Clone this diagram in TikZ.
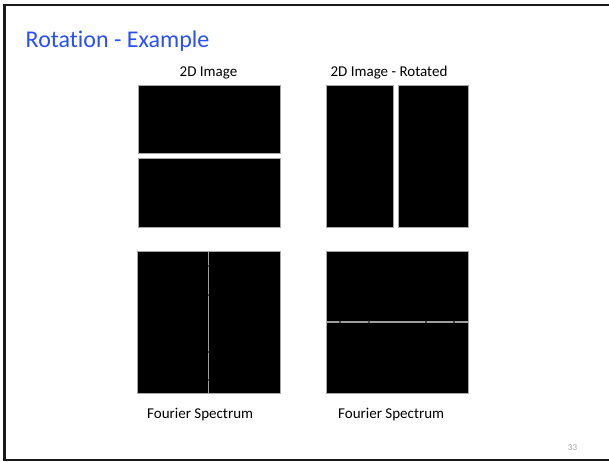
\documentclass[tikz,border=0pt]{standalone}
\usepackage{fontspec}
\setmainfont[Ligatures={NoCommon}]{Carlito}
\begin{document}
\begin{tikzpicture}[x=1pt,y=-1pt,
  panel/.style={fill=black,draw=gray!70,line width=0.6pt},
  caption/.style={font=\fontsize{15}{17}\selectfont,inner sep=0pt},
  frameline/.style={line width=2.6pt,black!90}]
\definecolor{titleblue}{RGB}{40,80,250}
\useasboundingbox (0,0) rectangle (609,461);
\begin{scope}
\clip (0,0) rectangle (609,461);
% slide frame
\draw[frameline] (4.5,459.8) -- (4.5,5) -- (620,5);
\draw[frameline] (3.2,459.8) -- (620,459.8);
\end{scope}
% title
\node[anchor=base west,inner sep=0pt,text=titleblue,font=\fontsize{24}{28}\selectfont] (title) at (25.5,47) {Rotation - Example};
% original image: two horizontal bars
\node[caption,anchor=base] (lblA) at (208.5,76.5) {2D Image};
\path[panel] (138,85) rectangle (280,153);
\path[panel] (138,158) rectangle (280,227);
% rotated image: two vertical bars
\node[caption,anchor=base] (lblB) at (389,76.5) {2D Image - Rotated};
\path[panel] (326,85) rectangle (393,227);
\path[panel] (398,85) rectangle (468,227);
% spectrum of the original
\path[panel] (137,251) rectangle (280,393);
\draw[gray!75,line width=1.3pt] (208.3,251.5) -- (208.3,392.5);
\foreach \yy in {265,294,351,379}
  \fill[black!70] (207.6,\yy) rectangle (209,\yy+2);
% spectrum of the rotated image
\path[panel] (326,251) rectangle (468,393);
\draw[gray!75,line width=1.3pt] (326.5,322) -- (467.5,322);
\foreach \xx in {339,368,425,453}
  \fill[black!70] (\xx,321.3) rectangle (\xx+2,322.7);
% captions under the spectra
\node[caption,anchor=base west] (lblC) at (147,418.5) {Fourier Spectrum};
\node[caption,anchor=base west] (lblD) at (338,418.5) {Fourier Spectrum};
% page number
\node[anchor=base,inner sep=0pt,text=gray!70,font=\fontsize{9}{10}\selectfont] (page) at (572.5,450) {33};
\end{tikzpicture}
\end{document}
